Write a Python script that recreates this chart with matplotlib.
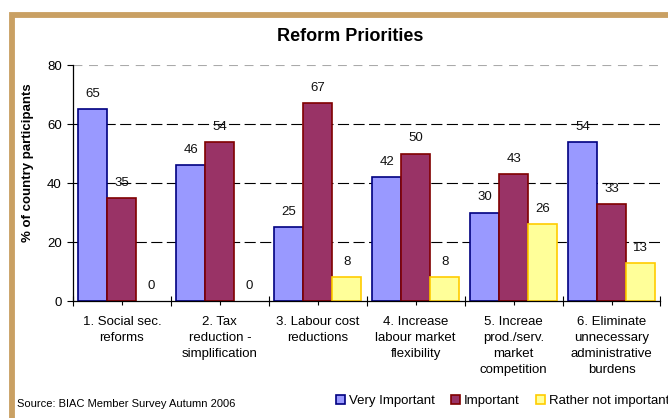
import matplotlib
matplotlib.use('Agg')
import matplotlib.pyplot as plt
from matplotlib.patches import Rectangle, Patch
import numpy as np

plt.rcParams['font.family'] = ['Liberation Sans', 'DejaVu Sans']

categories = ['1. Social sec.\nreforms',
              '2. Tax\nreduction -\nsimplification',
              '3. Labour cost\nreductions',
              '4. Increase\nlabour market\nflexibility',
              '5. Increae\nprod./serv.\nmarket\ncompetition',
              '6. Eliminate\nunnecessary\nadministrative\nburdens']
very_important = [65, 46, 25, 42, 30, 54]
important = [35, 54, 67, 50, 43, 33]
rather_not = [0, 0, 8, 8, 26, 13]
series_names = ['Very Important', 'Important', 'Rather not important']
fills = ['#9999FF', '#993366', '#FFFF99']
edges = ['#000080', '#800000', '#FFCC00']

W, H = 668, 418
fig = plt.figure(figsize=(W / 100, H / 100), dpi=100)
ax = fig.add_axes([73 / W, 1 - 301 / H, (660.5 - 73) / W, (301 - 65) / H])

x = np.arange(len(categories))
bw = 0.296
for k, vals in enumerate([very_important, important, rather_not]):
    # empty bars get no outline so nothing shows on the axis line
    ec = [edges[k] if v > 0 else 'none' for v in vals]
    bars = ax.bar(x + (k - 1) * bw, vals, bw, color=fills[k], edgecolor=ec,
                  linewidth=1.2, zorder=3)
    ax.bar_label(bars, padding=6.5, fontsize=9.5, color='#111111')

# dashed gridlines, top one lighter
for v in [20, 40, 60]:
    ax.axhline(v, color='black', lw=0.8, ls=(0, (10, 4)), zorder=1)
ax.axhline(80, color='#AAAAAA', lw=0.8, ls=(0, (8, 6)), zorder=1)

ax.set_xlim(-0.5, 5.5)
ax.set_ylim(0, 80)
ax.set_yticks([0, 20, 40, 60, 80])
ax.set_xticks(x)
ax.set_xticklabels(categories, fontsize=9.5)
for lbl in ax.get_xticklabels():
    lbl.set_linespacing(1.45)
ax.set_xticks(np.arange(-0.5, 6, 1), minor=True)
ax.tick_params(axis='x', which='major', direction='out', length=3, width=0.8, pad=8)
ax.tick_params(axis='x', which='minor', direction='inout', length=7, width=0.8)
ax.tick_params(axis='y', direction='out', length=4, width=0.8, pad=4, labelsize=9.5)
for s in ['top', 'right']:
    ax.spines[s].set_visible(False)
for s in ['left', 'bottom']:
    ax.spines[s].set_linewidth(0.9)
    ax.spines[s].set_zorder(4)

fig.text(350 / W, 1 - 36.7 / H, 'Reform Priorities', ha='center', va='center',
         fontsize=13, fontweight='bold')
fig.text(27.5 / W, 1 - 162.5 / H, '% of country participants', rotation=90,
         ha='center', va='center', fontsize=9.5, fontweight='bold')
fig.text(17 / W, 1 - 406.7 / H, 'Source: BIAC Member Survey Autumn 2006',
         va='baseline', fontsize=8)

handles = [Patch(facecolor=f, edgecolor=e, linewidth=1.2) for f, e in zip(fills, edges)]
fig.legend(handles, series_names, loc='center left',
           bbox_to_anchor=(336 / W, 1 - 401 / H), ncol=3, frameon=False,
           borderpad=0, borderaxespad=0, handlelength=0.7, handleheight=0.7,
           handletextpad=0.3, columnspacing=1.2, fontsize=9.5)

# tan frame around the chart
fig.add_artist(Rectangle((12 / W, -0.5), 2, 1.5 - 14.5 / H, fill=False,
                         edgecolor='#C9A063', linewidth=4.2,
                         transform=fig.transFigure))

fig.savefig('out.png', dpi=100)
